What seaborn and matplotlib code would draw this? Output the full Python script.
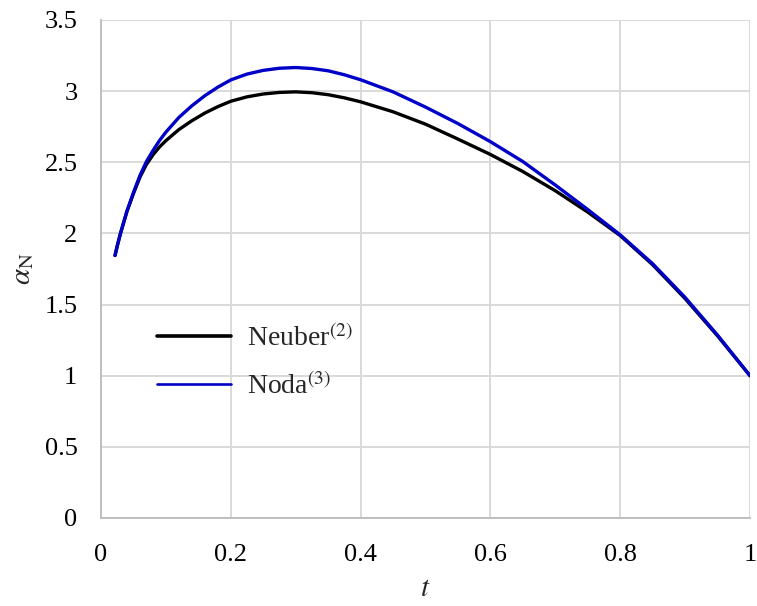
import matplotlib
matplotlib.use("Agg")
import matplotlib.pyplot as plt
import seaborn as sns
import pandas as pd

# Notch stress concentration factor alpha_N versus t
t_vals = [0.0216, 0.025, 0.030, 0.040, 0.050, 0.060, 0.070, 0.080, 0.090, 0.100,
          0.120, 0.140, 0.160, 0.180, 0.200, 0.225, 0.250, 0.275, 0.300, 0.325,
          0.350, 0.375, 0.400, 0.450, 0.500, 0.550, 0.600, 0.650, 0.700, 0.750,
          0.800, 0.850, 0.900, 0.950, 1.000]
neuber = [1.845, 1.911, 2.000, 2.155, 2.280, 2.395, 2.485, 2.552, 2.607, 2.652,
          2.730, 2.792, 2.846, 2.891, 2.929, 2.960, 2.980, 2.991, 2.995, 2.989,
          2.975, 2.953, 2.925, 2.855, 2.768, 2.663, 2.555, 2.435, 2.300, 2.150,
          1.985, 1.780, 1.542, 1.280, 1.000]
noda = [1.845, 1.911, 2.000, 2.157, 2.287, 2.407, 2.505, 2.582, 2.652, 2.712,
        2.815, 2.897, 2.968, 3.028, 3.079, 3.120, 3.146, 3.161, 3.166, 3.159,
        3.143, 3.115, 3.080, 2.995, 2.888, 2.772, 2.645, 2.505, 2.340, 2.168,
        1.990, 1.787, 1.550, 1.285, 1.000]

series_names = ["Neuber$^{(2)}$", "Noda$^{(3)}$"]
series_colors = ["#000000", "#0000C8"]

x_ticks = [0, 0.2, 0.4, 0.6, 0.8, 1.0]
x_tick_labels = ["0", "0.2", "0.4", "0.6", "0.8", "1"]
y_ticks = [0, 0.5, 1.0, 1.5, 2.0, 2.5, 3.0, 3.5]
y_tick_labels = ["0", "0.5", "1", "1.5", "2", "2.5", "3", "3.5"]

df = pd.concat([
    pd.DataFrame({"t": t_vals, "alpha": neuber, "model": series_names[0]}),
    pd.DataFrame({"t": t_vals, "alpha": noda, "model": series_names[1]}),
], ignore_index=True)

sns.set_theme(style="whitegrid")
plt.rcParams["font.family"] = ["Liberation Serif", "DejaVu Serif"]
plt.rcParams["mathtext.fontset"] = "stix"

fig = plt.figure(figsize=(7.57, 6.06), dpi=100)
ax = fig.add_axes([101 / 757, 1 - 518 / 606, 649 / 757, 498 / 606])

sns.lineplot(data=df, x="t", y="alpha", hue="model", hue_order=series_names,
             palette=dict(zip(series_names, series_colors)), linewidth=2.4,
             sort=False, estimator=None, ax=ax)
for ln in ax.get_lines():
    ln.set_solid_joinstyle("round")
    ln.set_solid_capstyle("round")

ax.set_xlim(0, 1)
ax.set_ylim(0, 3.5)
ax.set_xticks(x_ticks)
ax.set_xticklabels(x_tick_labels)
ax.set_yticks(y_ticks)
ax.set_yticklabels(y_tick_labels)
ax.tick_params(axis="both", length=0, labelsize=19, colors="#000000")
ax.tick_params(axis="x", pad=19)
ax.tick_params(axis="y", pad=17)

ax.grid(True, color="#d9d9d9", linewidth=1.4)
for side in ("top", "right"):
    ax.spines[side].set_visible(False)
for side in ("left", "bottom"):
    ax.spines[side].set_color("#bfbfbf")
    ax.spines[side].set_linewidth(1.4)

ax.set_xlabel("$t$", fontsize=21, labelpad=7)
ax.set_ylabel(r"$\alpha_{\mathrm{N}}$", fontsize=21, labelpad=6)

leg = ax.legend(loc="upper left", bbox_to_anchor=(157 / 757, 1 - 324 / 606),
                bbox_transform=fig.transFigure, frameon=False, fontsize=20,
                handlelength=2.65, handletextpad=0.6, labelspacing=0.75,
                borderpad=0, borderaxespad=0)
lines = leg.get_lines()
lines[0].set_linewidth(2.6)
lines[1].set_linewidth(1.9)

fig.savefig("out.png", dpi=100)
